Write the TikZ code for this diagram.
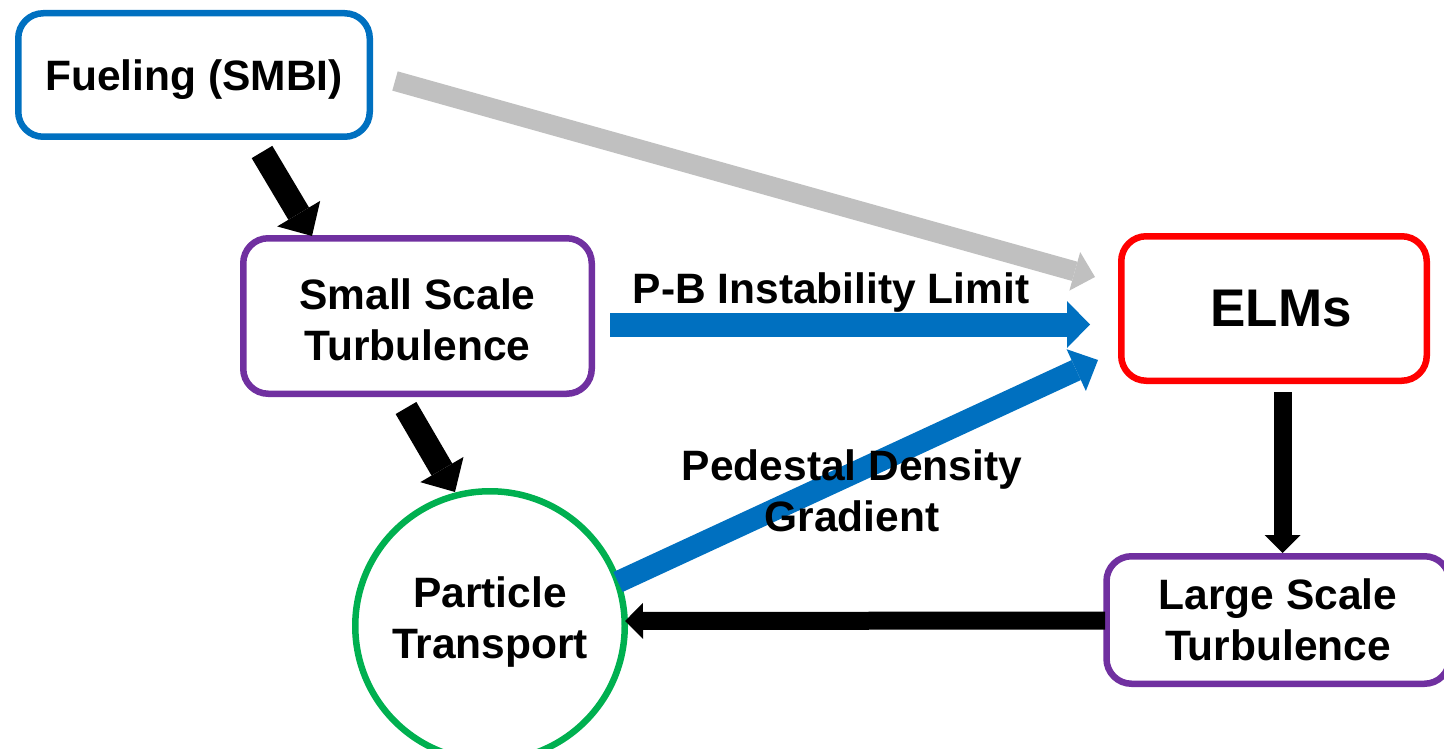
\documentclass[tikz,border=0pt]{standalone}
\usepackage{fontspec}
\setmainfont{Liberation Sans}
\usetikzlibrary{arrows.meta,calc}
\definecolor{azul}{RGB}{0,112,192}
\definecolor{morado}{RGB}{112,48,160}
\definecolor{verde}{RGB}{0,176,80}
\definecolor{rojo}{RGB}{255,0,0}
\definecolor{gris}{RGB}{192,192,192}
\newcommand{\grande}{\bfseries\fontsize{42.5}{51}\selectfont}

\begin{document}
\begin{tikzpicture}[x=1pt,y=-1pt,
  caja/.style={draw,line width=6.5pt,rounded corners=25pt,inner sep=0pt,align=center,font=\grande},
  flecha/.style={line width=24pt,-{Triangle[width=50pt,length=26pt,line width=0pt]}},
  flechita/.style={line width=18pt,-{Triangle[width=36pt,length=18pt,line width=0pt]}},
  etiqueta/.style={inner sep=0pt,align=center,font=\grande}]
  \useasboundingbox (0,0) rectangle (1444,749);

  \node[caja,draw=azul,minimum width=351.5pt,minimum height=123.5pt,text depth=0pt] (fuel) at (194,75) {Fueling (SMBI)};
  \node[caja,draw=morado,minimum width=348.5pt,minimum height=155.5pt,text height=90pt] (small) at (417.5,316) {Small Scale\\Turbulence};
  \node[caja,draw=rojo,minimum width=305.5pt,minimum height=144.5pt,font=\bfseries\fontsize{53}{60}\selectfont] (elms) at (1274,308.5) {\hspace{14pt}ELMs};
  \node[caja,draw=morado,minimum width=343pt,minimum height=127.5pt] (large) at (1278,620) {Large Scale\\Turbulence};
  \node[draw=verde,circle,line width=6.5pt,inner sep=0pt,minimum size=269.5pt,align=center,font=\grande,text depth=16pt] (part) at (490,626) {Particle\\Transport};

  % fueling
  \draw[flecha] ($(fuel)+(68,77)$) -- ($(small)+(-105.5,-80)$);
  \draw[gris,line width=20pt,-{Triangle[width=40pt,length=21pt,line width=0pt]}] ($(fuel)+(201,6)$) -- ($(elms)+(-179,-31.5)$);
  \draw[flecha] ($(small)+(-11.5,92)$) -- ($(part)+(-35,-134)$);

  % hacia ELMs
  \draw[azul,line width=24pt,-{Triangle[width=47pt,length=23pt,line width=0pt]}] ($(small)+(192.5,8.5)$) -- ($(elms)+(-184,16)$);
  \draw[azul,line width=22pt,-{Triangle[width=46pt,length=24pt,line width=0pt]}] ($(part)+(128,-44)$) -- ($(elms)+(-176,51.5)$);
  \node[etiqueta,anchor=base] (pb) at (831,303) {P-B Instability Limit};
  \node[etiqueta] (ped) at (852,491) {Pedestal Density\\Gradient};

  % ELMs
  \draw[flechita] ($(elms)+(8.5,83.5)$) -- ($(large)+(4.5,-67)$);
  \draw[flechita] ($(large)+(-173,0.5)$) -- ($(part)+(135,-5)$);
\end{tikzpicture}
\end{document}
